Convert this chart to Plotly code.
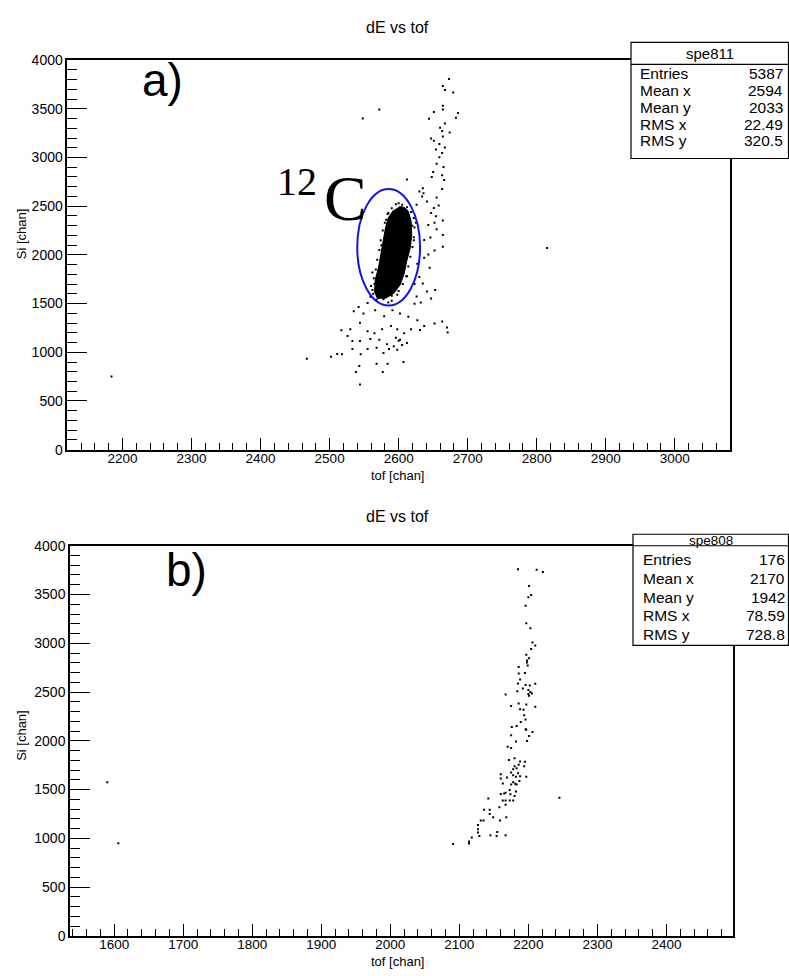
import plotly.graph_objects as go

W, H = 789, 976

# ---------------- data: panel a (spe811) ----------------
a_x = [2673, 2664, 2667, 2679, 2686, 2683, 2664, 2664, 2651, 2572, 2548, 2644, 2667, 2660, 2663, 2674,
       2664, 2647, 2651, 2659, 2667, 2654, 2663, 2659, 2655, 2665, 2650, 2648, 2663, 2666, 2612, 2635,
       2630, 2663, 2636, 2641, 2655, 2658, 2651, 2647, 2654, 2664, 2652, 2643, 2655, 2664, 2646, 2637,
       2664, 2652, 2643, 2637, 2634, 2626, 2627, 2645, 2630, 2623, 2635, 2641, 2626, 2647, 2623, 2632,
       2653,
       2559, 2555, 2542, 2535, 2549, 2566, 2579, 2591, 2602, 2614, 2627, 2637, 2652, 2663, 2670, 2671,
       2631, 2618, 2608, 2598, 2589, 2576, 2565, 2555, 2544, 2530, 2517, 2526, 2533, 2544, 2559, 2572,
       2583, 2593, 2602, 2612, 2598, 2586, 2578, 2568, 2555, 2545, 2533, 2518, 2511, 2502, 2467, 2543,
       2568, 2584, 2607, 2538, 2577, 2544, 2600, 2605, 2596,
       2815, 2184,
       2570, 2562, 2620, 2600, 2622, 2585, 2565, 2575, 2612, 2590,
       # speckle around the saturated blob
       2563, 2560, 2564, 2567, 2569, 2572, 2574, 2577, 2580, 2584, 2590, 2596, 2605, 2612, 2618, 2622,
       2623, 2622, 2620, 2617, 2614, 2611, 2606, 2600, 2590, 2578, 2568, 2560, 2616, 2571, 2585, 2598,
       2562, 2625, 2582]
a_y = [3805, 3734, 3694, 3667, 3458, 3407, 3532, 3492, 3468, 3492, 3401, 3397, 3350, 3306, 3273, 3256,
       3216, 3195, 3172, 3138, 3104, 3081, 3047, 3003, 2936, 2902, 2852, 2801, 2818, 2768, 2774, 2684,
       2650, 2677, 2633, 2549, 2589, 2508, 2481, 2431, 2397, 2354, 2330, 2306, 2263, 2205, 2178, 2152,
       2084, 2044, 2003, 1970, 2599, 2515, 1909, 1869, 1774, 1700, 1707, 1623, 1572, 1552, 1498, 1512,
       1640,
       1572, 1505, 1465, 1421, 1397, 1431, 1370, 1431, 1397, 1364, 1330, 1269, 1296, 1317, 1253, 1202,
       1229, 1236, 1195, 1236, 1269, 1236, 1195, 1216, 1303, 1236, 1226, 1168, 1115, 1115, 1135, 1128,
       1081, 1061, 1128, 1094, 1027, 1034, 993, 1047, 1034, 980, 1034, 980, 983, 953, 933, 859,
       882, 882, 899, 798, 798, 670, 1118, 1074, 1148,
       2070, 750,
       1560, 1640, 2300, 2530, 2150, 2430, 1700, 2100, 1780, 1530,
       1600, 1680, 1760, 1850, 1950, 2050, 2150, 2250, 2330, 2420, 2480, 2520, 2515, 2490, 2440, 2380,
       2280, 2180, 2080, 1980, 1880, 1780, 1700, 1630, 1580, 1545, 1540, 1570, 2250, 1720, 1510, 1590,
       1820, 2330, 2360]

# outline of the saturated 12C blob (tof, Si)
blob_x = [2601, 2608, 2614, 2618, 2619, 2617, 2612, 2608, 2602, 2593, 2581, 2569, 2565, 2566, 2571,
          2574, 2577, 2581, 2585, 2592]
blob_y = [2498, 2488, 2448, 2347, 2212, 2077, 1943, 1808, 1690, 1606, 1555, 1555, 1623, 1741, 1875,
          2010, 2145, 2280, 2381, 2455]

# 12C gate ellipse (tof range, Si range)
gate_x = [2540, 2631]
gate_y = [1480, 2676]

# ---------------- data: panel b (spe808) ----------------
b_x = [2185, 2212, 2221, 2201, 2204, 2200, 2196, 2197, 2203, 2206, 2210, 2204, 2197, 2201, 2198, 2198,
       2199, 2186, 2186, 2195, 2188, 2185, 2196, 2202, 2210, 2192, 2184, 2200, 2203, 2200, 2205, 2167,
       2201, 2175, 2186, 2197, 2210, 2188, 2193, 2194, 2196, 2189, 2183, 2176, 2196, 2197, 2206, 2201,
       2175, 2182, 2198, 2170, 2175, 2172, 2180, 2188, 2195, 2194, 2186, 2180, 2178, 2183, 2160, 2175,
       2185, 2178, 2160, 2169, 2182, 2188, 2197, 2163, 2178, 2181, 2175, 2183, 2187, 2173, 2182, 2167,
       2165, 2174, 2160, 2180, 2178, 2142, 2163, 2167, 2173, 2167, 2158, 2136, 2144, 2144, 2149, 2131,
       2135, 2159, 2168, 2127, 2127, 2127, 2129, 2145, 2154, 2155, 2167, 2118, 2114, 2114, 2091, 2245,
       1590, 1606]
b_y = [3758, 3755, 3732, 3587, 3496, 3473, 3385, 3204, 3153, 3009, 2978, 2941, 2881, 2847, 2824, 2804,
       2773, 2757, 2689, 2696, 2629, 2588, 2572, 2568, 2585, 2535, 2508, 2521, 2501, 2481, 2484, 2474,
       2461, 2356, 2383, 2373, 2350, 2323, 2319, 2262, 2219, 2192, 2151, 2141, 2118, 2114, 2091, 2050,
       2057, 1993, 1997, 1940, 1926, 1802, 1822, 1788, 1785, 1738, 1755, 1738, 1708, 1718, 1657, 1674,
       1667, 1647, 1613, 1624, 1630, 1637, 1630, 1563, 1576, 1560, 1553, 1553, 1587, 1496, 1479, 1466,
       1459, 1452, 1455, 1435, 1388, 1408, 1388, 1388, 1388, 1345, 1318, 1294, 1294, 1250, 1217, 1183,
       1183, 1183, 1217, 1136, 1092, 1059, 1025, 1032, 1025, 1065, 1032, 1008, 968, 948, 941, 1415,
       1575, 950]

# axis ranges / ticks
a_xrange = [2120, 3080]
b_xrange = [1536, 2496]
y_range = [0, 4000]

stats_a = [("Entries", "5387"), ("Mean x", "2594"), ("Mean y", "2033"), ("RMS x", "22.49"), ("RMS y", "320.5")]
stats_b = [("Entries", "176"), ("Mean x", "2170"), ("Mean y", "1942"), ("RMS x", "78.59"), ("RMS y", "728.8")]

FONT = "Liberation Sans, Arial, Helvetica, sans-serif"
SERIF = "Liberation Serif, Times New Roman, serif"


def P(x, y):
    return x / W, 1 - y / H


fig = go.Figure()

fig.add_trace(go.Scatter(x=blob_x, y=blob_y, mode="lines", fill="toself", fillcolor="black",
                         line=dict(color="black", width=1), xaxis="x", yaxis="y", hoverinfo="skip"))
fig.add_trace(go.Scatter(x=a_x, y=a_y, mode="markers", xaxis="x", yaxis="y",
                         marker=dict(symbol="square", size=2, color="black", line=dict(width=0))))
fig.add_trace(go.Scatter(x=b_x, y=b_y, mode="markers", xaxis="x2", yaxis="y2",
                         marker=dict(symbol="square", size=2, color="black", line=dict(width=0))))

common_x = dict(showgrid=False, zeroline=False, showline=True, mirror=True, linecolor="black", linewidth=1.5,
                ticks="inside", ticklen=12, tickwidth=1, tickcolor="black", dtick=100,
                ticklabelstandoff=-5,
                tickfont=dict(family=FONT, size=13.5, color="black"),
                minor=dict(ticks="inside", ticklen=7, dtick=20, tickcolor="black", tickwidth=1))
common_y = dict(showgrid=False, zeroline=False, showline=True, mirror=True, linecolor="black", linewidth=1.5,
                ticks="inside", ticklen=20, tickwidth=1, tickcolor="black", dtick=500, range=y_range,
                tickfont=dict(family=FONT, size=14, color="black"),
                minor=dict(ticks="inside", ticklen=10, dtick=100, tickcolor="black", tickwidth=1))

fig.update_layout(
    width=W, height=H, margin=dict(l=0, r=0, t=0, b=0),
    paper_bgcolor="white", plot_bgcolor="white", showlegend=False,
    xaxis=dict(domain=[67.3 / W, 730 / W], range=a_xrange, anchor="y", **common_x),
    yaxis=dict(domain=[1 - 449 / H, 1 - 53 / H], anchor="x", **common_y),
    xaxis2=dict(domain=[70 / W, 732.7 / W], range=b_xrange, anchor="y2", **common_x),
    yaxis2=dict(domain=[1 - 943.3 / H, 1 - 546.7 / H], anchor="x2", **common_y),
)

shapes = []
annotations = []

# gate ellipse
shapes.append(dict(type="circle", xref="x", yref="y", x0=gate_x[0], x1=gate_x[1], y0=gate_y[0], y1=gate_y[1],
                   line=dict(color="#1414e6", width=2)))


def text(x, y, s, size, xanchor="center", family=FONT, angle=0, yanchor="middle"):
    px, py = P(x, y)
    annotations.append(dict(x=px, y=py, xref="paper", yref="paper", text=s, showarrow=False,
                            xanchor=xanchor, yanchor=yanchor, textangle=angle,
                            font=dict(family=family, size=size, color="black")))


def statbox(left, top, sep, bottom, right, title, title_y, title_size, rows, row_ys, lab_x, val_x):
    x0, y0 = P(left, bottom)
    x1, y1 = P(right, top)
    shapes.append(dict(type="rect", xref="paper", yref="paper", x0=x0, x1=x1, y0=y0, y1=y1,
                       fillcolor="white", line=dict(color="black", width=1.2), layer="above"))
    sx0, sy = P(left, sep)
    sx1, _ = P(right, sep)
    shapes.append(dict(type="line", xref="paper", yref="paper", x0=sx0, x1=sx1, y0=sy, y1=sy,
                       line=dict(color="black", width=1.2), layer="above"))
    text((left + right) / 2, title_y, title, title_size)
    for (lab, val), ry in zip(rows, row_ys):
        text(lab_x, ry, lab, 15.5, xanchor="left")
        text(val_x, ry, val, 15.5, xanchor="right")


statbox(631, 35, 57.3, 153, 788.5, "spe811", 46, 15, stats_a, [67, 84, 101, 118, 135], 638, 785)
statbox(633, 535, 546.7, 648, 788.5, "spe808", 541, 13.5, stats_b, [561, 580, 599, 618, 637], 641, 787)

# titles
text(397, 20, "dE vs tof", 16)
text(397, 517, "dE vs tof", 16)
# axis titles
text(397, 475, "tof [chan]", 13)
text(397, 969, "tof [chan]", 13)
text(21, 230, "Si [chan]", 13, angle=-90)
text(22, 740, "Si [chan]", 13, angle=-90)
# panel labels
text(162, 73, "a)", 46)
text(186, 571, "b)", 46)
# 12C label
text(297, 176, "12", 40, family=SERIF)
text(345, 194, "C", 64, family=SERIF)

fig.update_layout(shapes=shapes, annotations=annotations)
fig.write_html("out.html")
